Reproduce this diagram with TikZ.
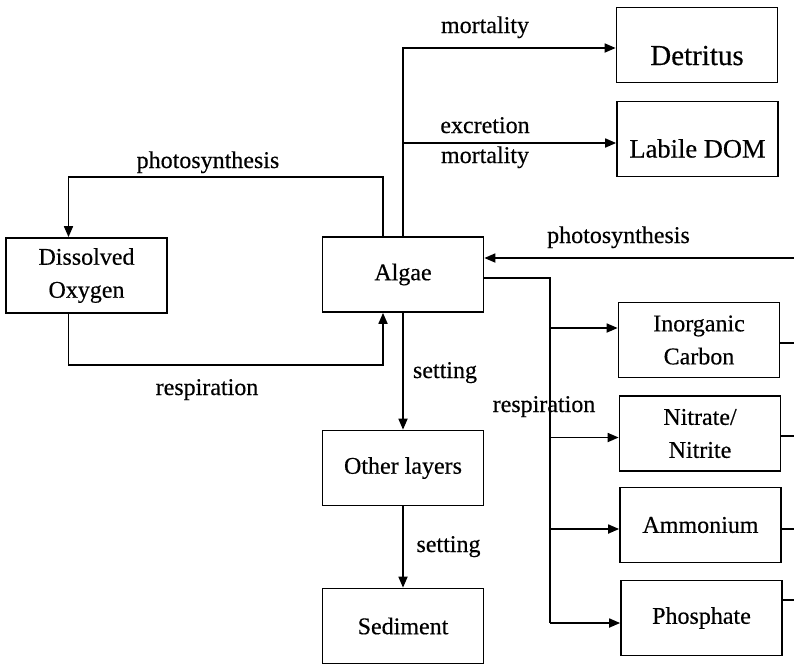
\documentclass[tikz,border=0pt]{standalone}
\usepackage{fontspec}
\setmainfont{Liberation Serif}[FakeBold=0.4]
\usetikzlibrary{arrows.meta,calc,positioning}

\begin{document}
\begin{tikzpicture}[
  x=1pt, y=-1pt,
  font={\fontsize{24}{33}\selectfont},
  box/.style={rectangle,draw,line width=1.7pt,align=center,minimum width=161pt,minimum height=75pt,inner sep=2pt},
  link/.style={line width=1.7pt},
  arrow/.style={link,-{Triangle[length=11pt,width=9pt]}},
  lbl/.style={inner sep=0pt,anchor=base},
]
\useasboundingbox (0,0) rectangle (794,665);

% boxes
\node[box,font={\fontsize{29}{33}\selectfont},text height=40pt,text depth=0pt] (detritus) at (697,45) {Detritus};
\node[box,font={\fontsize{26.5}{33}\selectfont},text height=37pt,text depth=0pt] (dom) at (697.5,139) {Labile DOM};
\node[box] (oxygen) at (86.5,275.5) {Dissolved\\Oxygen};
\node[box] (algae) at (403,274.5) {Algae};
\node[box] (other) at (403,468) {Other layers};
\node[box] (sediment) at (403,626) {Sediment};
\node[box] (carbon) at (699,340) {Inorganic\\Carbon};
\node[box] (nitrate) at (700,433.5) {Nitrate/\\Nitrite};
\node[box] (ammonium) at (700.5,525) {Ammonium};
\node[box] (phosphate) at (701.5,618) {Phosphate};

% algae losses
\draw[arrow] (algae.north) |- ([yshift=-3pt]detritus.west);
\draw[arrow] (algae.north) |- ([yshift=-4pt]dom.west);

% oxygen loop
\draw[arrow] ([xshift=-20pt]algae.north) -- ++(0,-59) -| ([xshift=-18pt]oxygen.north);
\draw[arrow] ([xshift=-18pt]oxygen.south) -- ++(0,51) -| ([xshift=-20pt]algae.south);

% uptake from the right
\coordinate (sun) at (794,258);
\draw[arrow] (sun) -- (sun -| algae.east);

% respiration to nutrients
\coordinate (fork) at (550,278);
\foreach \n/\s in {carbon/12pt,nitrate/-4pt,ammonium/-4pt,phosphate/-5pt}
  \coordinate (in-\n) at ([yshift=\s]\n.west);
\draw[link] (fork -| algae.east) -- (fork) -- (fork |- in-phosphate);
\foreach \n in {carbon,nitrate,ammonium,phosphate}
  \draw[arrow] (fork |- in-\n) -- (in-\n);

% nutrients leaving to the right
\coordinate (edge) at (794,0);
\foreach \n/\s in {carbon/-3pt,nitrate/-2.5pt,ammonium/-4pt,phosphate/18pt}{
  \coordinate (out-\n) at ([yshift=\s]\n.east);
  \draw[link] (out-\n) -- (out-\n -| edge);
}

% settling
\draw[arrow] (algae.south) -- (other.north);
\draw[arrow] (other.south) -- (sediment.north);

% labels
\node[lbl] (mort1) at (485,33) {mortality};
\node[lbl] (excr) at (485,133) {excretion};
\node[lbl] (mort2) at (485,163) {mortality};
\node[lbl] (photo1) at (208,168) {photosynthesis};
\node[lbl] (resp1) at (207,395) {respiration};
\node[lbl] (set1) at (445,378) {setting};
\node[lbl] (resp2) at (544,412) {respiration};
\node[lbl] (photo2) at (618.5,243) {photosynthesis};
\node[lbl] (set2) at (448.5,552) {setting};
\end{tikzpicture}
\end{document}
